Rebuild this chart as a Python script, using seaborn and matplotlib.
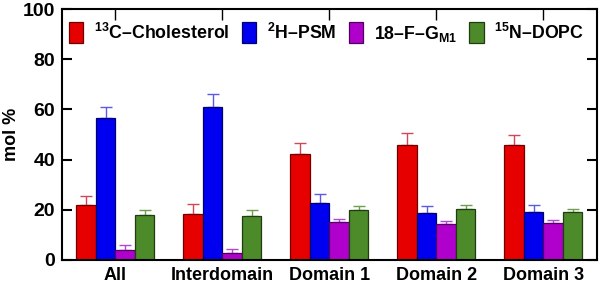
import numpy as np
import pandas as pd
import matplotlib
matplotlib.use("Agg")
import matplotlib.pyplot as plt
import seaborn as sns
from matplotlib.patches import Patch

categories = ["All", "Interdomain", "Domain 1", "Domain 2", "Domain 3"]
series = ["$^{13}$C\u2013Cholesterol", "$^{2}$H\u2013PSM", "18\u2013F\u2013G$_{M1}$", "$^{15}$N\u2013DOPC"]
cholesterol = [21.7, 18.4, 42.3, 46.0, 46.0]
cholesterol_err = [3.6, 4.0, 4.2, 4.5, 3.9]
psm = [56.4, 61.1, 22.7, 18.9, 19.3]
psm_err = [4.5, 5.0, 3.6, 2.6, 2.4]
gm1 = [4.0, 2.7, 15.1, 14.4, 14.9]
gm1_err = [1.9, 1.8, 1.4, 1.2, 1.1]
dopc = [17.9, 17.7, 19.9, 20.3, 19.3]
dopc_err = [2.0, 2.2, 1.7, 1.4, 1.2]
yticks = [0, 20, 40, 60, 80, 100]

values = [cholesterol, psm, gm1, dopc]
errors = [cholesterol_err, psm_err, gm1_err, dopc_err]
face = ["#e60000", "#0000f0", "#b000cc", "#4c8a2a"]
edge = ["#700000", "#000070", "#500060", "#203c10"]
ecol = ["#d04858", "#5a5ae6", "#b048d0", "#6e9e4e"]

df = pd.DataFrame({
    "domain": np.repeat([categories], 4, axis=0).ravel(),
    "lipid": np.repeat(series, len(categories)),
    "mol": np.concatenate(values),
})

sns.set_style("white")
plt.rcParams["font.family"] = ["Liberation Sans", "DejaVu Sans"]
plt.rcParams["font.weight"] = "bold"
plt.rcParams["text.color"] = "black"
plt.rcParams["axes.labelcolor"] = "black"
plt.rcParams["xtick.color"] = "black"
plt.rcParams["ytick.color"] = "black"
plt.rcParams["mathtext.fontset"] = "custom"
plt.rcParams["mathtext.rm"] = "Liberation Sans:bold"
plt.rcParams["mathtext.bf"] = "Liberation Sans:bold"
plt.rcParams["mathtext.it"] = "Liberation Sans:bold"
plt.rcParams["mathtext.default"] = "bf"

fig = plt.figure(figsize=(6.01, 2.85), dpi=100)
ax = fig.add_axes([0.103, 0.088, 0.890, 0.880])
sns.barplot(data=df, x="domain", y="mol", hue="lipid", hue_order=series,
            palette=face, width=0.73, errorbar=None, linewidth=0.9,
            saturation=1, ax=ax, legend=False)

bar_containers = list(ax.containers)
for i, cont in enumerate(bar_containers):
    xs = []
    hs = []
    for p in cont.patches:
        p.set_edgecolor(edge[i])
        p.set_linewidth(0.9)
        xs.append(p.get_x() + p.get_width() / 2)
        hs.append(p.get_height())
    ax.errorbar(xs, hs, yerr=[np.zeros(len(hs)), errors[i]], fmt="none",
                ecolor=ecol[i], elinewidth=1.0, capsize=4, capthick=1.0, zorder=0.5)

ax.set_xlim(-0.5, 4.5)
ax.set_ylim(0, 100)
ax.set_yticks(yticks)
ax.set_xlabel("")
ax.set_ylabel("mol %", fontsize=13, fontweight="bold")
ax.yaxis.set_label_coords(-0.078, 0.5)
ax.tick_params(axis="y", direction="in", length=7, width=1.5, labelsize=14,
               right=True, left=True, pad=5)
ax.tick_params(axis="x", direction="in", length=8, width=1.0, labelsize=13,
               top=True, bottom=False, pad=5)
for lab in ax.get_xticklabels() + ax.get_yticklabels():
    lab.set_fontweight("bold")
for s in ax.spines.values():
    s.set_visible(True)
    s.set_linewidth(1.5)
    s.set_color("black")

handles = [Patch(facecolor=face[i], edgecolor=edge[i], linewidth=0.9) for i in range(4)]
ax.legend(handles, series, loc="upper center", bbox_to_anchor=(0.495, 1.0), ncol=4,
          frameon=False, handlelength=0.8, handleheight=1.4, handletextpad=0.6,
          columnspacing=0.7, borderaxespad=0.35, prop={"size": 12.8, "weight": "bold"})

fig.savefig("out.png", dpi=100)
